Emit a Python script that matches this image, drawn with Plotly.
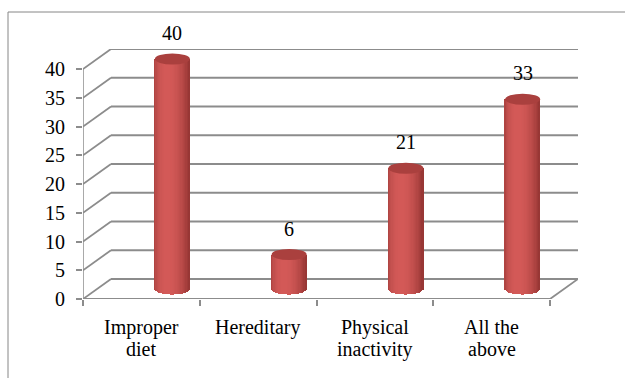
import numpy as np
import plotly.graph_objects as go

categories = ["Improper<br>diet", "Hereditary", "Physical<br>inactivity", "All the<br>above"]
values = [40, 6, 21, 33]
y_ticks = [0, 5, 10, 15, 20, 25, 30, 35, 40]

# pixel scale of the front plane
PX_X = 116.75   # px per category
PX_Y = 5.75     # px per unit
DEPTH_DX = 28 / PX_X   # back-wall offset (x units)
DEPTH_DY = 20 / PX_Y   # back-wall offset (y units)
BAR_DX = 31 / PX_X
BAR_DY = 10 / PX_Y
BAR_W = 35 / PX_X
ELL_B = 5.5 / PX_Y

GRID = "#8c8c8c"
FONT = "Liberation Serif"
FS = 20

fig = go.Figure()
n = len(categories)
xs = np.arange(n)

# cylinder bodies as shaded vertical strips
N = 28
light = np.array([212, 90, 88])
dark = np.array([120, 36, 34])
for k in range(N):
    u = -1 + (2 * k + 1) / N
    theta = np.arcsin(u)
    inten = np.clip(np.cos(theta + 0.25), 0, 1) ** 1.3
    col = dark + (light - dark) * (0.35 + 0.65 * inten)
    color = "rgb(%d,%d,%d)" % tuple(col.astype(int))
    bases = [BAR_DY - ELL_B * np.sqrt(1 - u * u) for _ in values]
    heights = [v + BAR_DY - b for v, b in zip(values, bases)]
    fig.add_trace(go.Bar(
        x=xs + BAR_DX + u * BAR_W / 2,
        y=heights,
        base=bases,
        width=BAR_W / N * 1.25,
        marker=dict(color=color, line=dict(width=0)),
        hoverinfo="skip",
        showlegend=False,
    ))

shapes = []
x0, x1 = -0.5, n - 0.5
# back and side wall gridlines
for v in y_ticks:
    shapes.append(dict(type="line", layer="below", x0=x0, y0=v, x1=x0 + DEPTH_DX, y1=v + DEPTH_DY,
                       line=dict(color=GRID, width=1.8)))
    shapes.append(dict(type="line", layer="below", x0=x0 + DEPTH_DX, y0=v + DEPTH_DY, x1=x1 + DEPTH_DX, y1=v + DEPTH_DY,
                       line=dict(color=GRID, width=1.8)))
# floor front edge and right edge
shapes.append(dict(type="line", layer="below", x0=x0, y0=0, x1=x1, y1=0, line=dict(color=GRID, width=1.8)))
shapes.append(dict(type="line", layer="below", x0=x1, y0=0, x1=x1 + DEPTH_DX, y1=DEPTH_DY, line=dict(color=GRID, width=1.8)))
# front value axis line
shapes.append(dict(type="line", layer="below", x0=x0, y0=0, x1=x0, y1=max(y_ticks), line=dict(color=GRID, width=1.5)))
# cylinder tops
for i, v in enumerate(values):
    cx = i + BAR_DX
    cy = v + BAR_DY
    shapes.append(dict(type="circle", layer="above", x0=cx - BAR_W / 2, x1=cx + BAR_W / 2,
                       y0=cy - ELL_B, y1=cy + ELL_B,
                       fillcolor="rgb(170,64,62)", line=dict(width=0)))
# outer chart border (top and left)
shapes.append(dict(type="line", xref="paper", yref="paper", x0=-75 / 495, y0=(299 - 12) / 250, x1=1.2, y1=(299 - 12) / 250,
                   line=dict(color="#868686", width=1)))
shapes.append(dict(type="line", xref="paper", yref="paper", x0=-75 / 495, y0=(299 - 12) / 250, x1=-75 / 495, y1=-0.4,
                   line=dict(color="#868686", width=1)))

annotations = []
# data labels
for i, v in enumerate(values):
    annotations.append(dict(x=i + BAR_DX, y=v, text=str(v), showarrow=False, yshift=36,
                            font=dict(family=FONT, size=FS, color="black")))
# category labels (top-aligned, tight line spacing)
for i, cat in enumerate(categories):
    for j, line in enumerate(cat.split("<br>")):
        annotations.append(dict(x=i, y=0, text=line, showarrow=False, yanchor="middle",
                                yshift=-28 - 22 * j,
                                font=dict(family=FONT, size=FS, color="black")))

fig.update_layout(
    width=625, height=378,
    margin=dict(l=83, r=47, t=49, b=79),
    paper_bgcolor="white", plot_bgcolor="white",
    barmode="overlay", bargap=0,
    shapes=shapes, annotations=annotations,
    showlegend=False,
    font=dict(family=FONT, size=FS, color="black"),
    xaxis=dict(range=[x0, x1 + DEPTH_DX], tickmode="array", tickvals=list(xs), ticktext=categories,
               ticks="", showticklabels=False, showgrid=False, zeroline=False, showline=False,
               minor=dict(tickmode="array", tickvals=[x0 + j for j in range(n + 1)], ticks="outside",
                          ticklen=6, tickcolor=GRID, tickwidth=1.5, showgrid=False),
               fixedrange=True),
    yaxis=dict(range=[0, max(y_ticks) + DEPTH_DY], tickmode="array", tickvals=y_ticks,
               ticks="outside", ticklen=6, tickcolor=GRID, tickwidth=1.5,
               tickfont=dict(family=FONT, size=FS, color="black"),
               showgrid=False, zeroline=False, showline=False, ticklabelstandoff=7,
               fixedrange=True),
)

fig.write_html("out.html")
